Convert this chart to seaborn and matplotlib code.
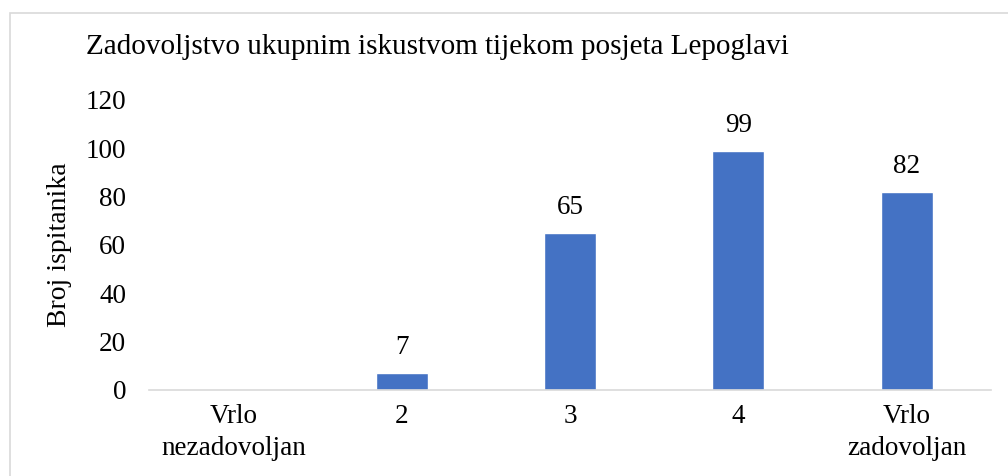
import matplotlib
matplotlib.use("Agg")
import matplotlib.pyplot as plt
import seaborn as sns
import pandas as pd
from matplotlib.patches import Rectangle

# data
categories = ["Vrlo\nnezadovoljan", "2", "3", "4", "Vrlo\nzadovoljan"]
counts = [0, 7, 65, 99, 82]
title = "Zadovoljstvo ukupnim iskustvom tijekom posjeta Lepoglavi"
y_label = "Broj ispitanika"
y_ticks = [0, 20, 40, 60, 80, 100, 120]

sns.set_style("white")
plt.rcParams["font.family"] = ["Liberation Serif", "DejaVu Serif"]
plt.rcParams["text.color"] = "black"
plt.rcParams["axes.labelcolor"] = "black"
plt.rcParams["xtick.color"] = "black"
plt.rcParams["ytick.color"] = "black"

df = pd.DataFrame({"kategorija": categories, "broj": counts})

fig = plt.figure(figsize=(10.08, 4.76), dpi=100)
ax = fig.add_axes([0.148, 0.181, 0.835, 0.609])

sns.barplot(data=df, x="kategorija", y="broj", color="#4472C4",
            width=0.31, saturation=1, ax=ax)

# value labels, zero is left out like in the original
for i, v in enumerate(counts):
    if v > 0:
        ax.annotate(str(v), (i, v), xytext=(0, 9), textcoords="offset points",
                    ha="center", va="bottom", fontsize=19.5)

ax.set_xlim(-0.5, 4.5)
ax.set_ylim(0, 120)
ax.set_yticks(y_ticks)
ax.tick_params(axis="both", length=0, labelsize=19.5)
ax.tick_params(axis="y", pad=16.5)
ax.tick_params(axis="x", pad=10)
for lbl in ax.get_xticklabels():
    lbl.set_linespacing(1.38)
ax.set_xlabel("")
ax.set_ylabel(y_label, fontsize=20, labelpad=10)

for s in ["top", "right", "left"]:
    ax.spines[s].set_visible(False)
ax.spines["bottom"].set_color("#D9D9D9")
ax.spines["bottom"].set_linewidth(1.2)

fig.text(86 / 1008, 1 - 47 / 476, title, fontsize=21, ha="left", va="center")

# chart frame, runs off the right and bottom edge
fig.patches.append(Rectangle((10 / 1008, -0.1), 1.2, 1 - 13 / 476 + 0.1,
                             transform=fig.transFigure, fill=False,
                             edgecolor="#D9D9D9", linewidth=1.2))

fig.savefig("out.png", dpi=100)
